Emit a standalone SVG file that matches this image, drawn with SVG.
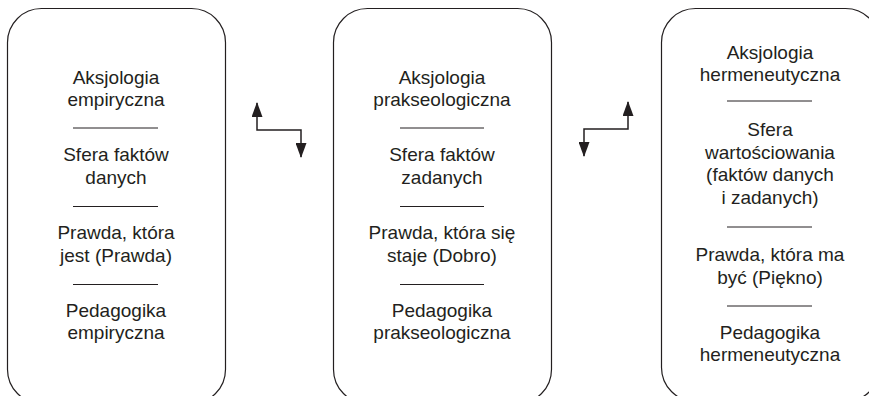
<svg xmlns="http://www.w3.org/2000/svg" width="869" height="396" viewBox="0 0 869 396">
<defs>
<marker id="ah" viewBox="0 0 15 11" refX="14" refY="5.5" markerWidth="15" markerHeight="11" markerUnits="userSpaceOnUse" orient="auto-start-reverse">
<path d="M0,0 L15,5.5 L0,11 Z" fill="#231f20"/>
</marker>
</defs>
<style>
.box{fill:#fff;stroke:#231f20;stroke-width:1.2}
.t{font-family:"Liberation Sans",Arial,sans-serif;font-size:19px;fill:#231f20;text-anchor:middle}
.sep{stroke:#231f20;stroke-width:1}
.con{fill:none;stroke:#231f20;stroke-width:1.5}
</style>
<rect width="869" height="396" fill="#fff"/>
<g id="node1">
<rect class="box" x="7.5" y="8.5" width="218" height="395" rx="34" ry="34"/>
<text class="t" x="116" y="84">Aksjologia</text>
<text class="t" x="116" y="106">empiryczna</text>
<line class="sep" x1="73" y1="128" x2="158" y2="128"/>
<text class="t" x="116" y="161">Sfera faktów</text>
<text class="t" x="116" y="184">danych</text>
<line class="sep" x1="73" y1="206.5" x2="158" y2="206.5"/>
<text class="t" x="116" y="239">Prawda, która</text>
<text class="t" x="116" y="262">jest (Prawda)</text>
<line class="sep" x1="73" y1="284.5" x2="158" y2="284.5"/>
<text class="t" x="116" y="317">Pedagogika</text>
<text class="t" x="116" y="339">empiryczna</text>
</g>
<g id="node2">
<rect class="box" x="333.5" y="8.5" width="218" height="395" rx="34" ry="34"/>
<text class="t" x="442" y="84">Aksjologia</text>
<text class="t" x="442" y="106">prakseologiczna</text>
<line class="sep" x1="400" y1="128" x2="484" y2="128"/>
<text class="t" x="442" y="161">Sfera faktów</text>
<text class="t" x="442" y="184">zadanych</text>
<line class="sep" x1="400" y1="206.5" x2="484" y2="206.5"/>
<text class="t" x="442" y="239">Prawda, która się</text>
<text class="t" x="442" y="262">staje (Dobro)</text>
<line class="sep" x1="400" y1="284.5" x2="484" y2="284.5"/>
<text class="t" x="442" y="317">Pedagogika</text>
<text class="t" x="442" y="339">prakseologiczna</text>
</g>
<g id="node3">
<rect class="box" x="661.5" y="8.5" width="218" height="393" rx="34" ry="34"/>
<text class="t" x="770" y="59">Aksjologia</text>
<text class="t" x="770" y="81">hermeneutyczna</text>
<line class="sep" x1="727" y1="101" x2="812" y2="101"/>
<text class="t" x="770" y="136">Sfera</text>
<text class="t" x="770" y="159">wartościowania</text>
<text class="t" x="770" y="181">(faktów danych</text>
<text class="t" x="770" y="204">i zadanych)</text>
<line class="sep" x1="727" y1="227" x2="812" y2="227"/>
<text class="t" x="770" y="261">Prawda, która ma</text>
<text class="t" x="770" y="284">być (Piękno)</text>
<line class="sep" x1="727" y1="306" x2="812" y2="306"/>
<text class="t" x="770" y="339">Pedagogika</text>
<text class="t" x="770" y="361">hermeneutyczna</text>
</g>
<g id="connectors">
<path class="con" d="M257,103 L257,130 L301,130 L301,157" marker-start="url(#ah)" marker-end="url(#ah)"/>
<path class="con" d="M628,102 L628,129 L584,129 L584,156" marker-start="url(#ah)" marker-end="url(#ah)"/>
</g>
</svg>
